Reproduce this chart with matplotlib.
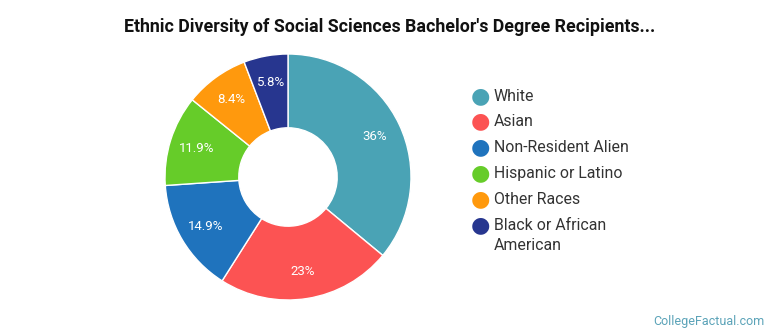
import numpy as np
import matplotlib.pyplot as plt

categories = ['White', 'Asian', 'Non-Resident Alien', 'Hispanic or Latino',
              'Other Races', 'Black or African\nAmerican']
values = [36, 23, 14.9, 11.9, 8.4, 5.8]
labels = ['36%', '23%', '14.9%', '11.9%', '8.4%', '5.8%']
colors = ['#4aa3b5', '#fc5353', '#1f73bd', '#66cc29', '#ff990d', '#27368f']

plt.rcParams['font.family'] = ['Roboto', 'DejaVu Sans']

fig = plt.figure(figsize=(7.7, 3.35), dpi=100)
fig.patch.set_facecolor('white')

# pie axes: centre ~ (288,177) px, radius ~122 px
r_px = 123
ax = fig.add_axes([(288 - r_px) / 770, (335 - 177 - r_px) / 335,
                   2 * r_px / 770, 2 * r_px / 335])
wedges, _ = ax.pie(values, colors=colors, startangle=90, counterclock=False,
                   radius=1.0,
                   wedgeprops=dict(width=0.6, edgecolor='white', linewidth=1))
ax.set_aspect('equal')
ax.set_xlim(-1, 1)
ax.set_ylim(-1, 1)

# percentage labels in the middle of each ring segment
start = 90.0
total = sum(values)
for v, lab in zip(values, labels):
    ang = np.deg2rad(start - v / total * 360 / 2)
    start -= v / total * 360
    ax.text(0.78 * np.cos(ang), 0.78 * np.sin(ang), lab, ha='center',
            va='center', color='white', fontsize=9.5)

fig.text(390 / 770, 1 - 27 / 335, "Ethnic Diversity of Social Sciences Bachelor's Degree Recipients...",
         ha='center', va='center', fontsize=12.8, fontweight='bold', color='#111111')

# legend
ys = [96, 121, 147, 173, 199, 225]
for y, c, cat in zip(ys, colors, categories):
    fig.text(480 / 770, 1 - y / 335, '\u25CF', color=c, fontsize=16,
             ha='center', va='center', family='DejaVu Sans')
    fig.text(494 / 770, 1 - (y - 7) / 335, cat, color='#333333', fontsize=11.4,
             ha='left', va='top', linespacing=1.4)

fig.text(1 - 6 / 770, 1 - 321 / 335, 'CollegeFactual.com', ha='right', va='center',
         fontsize=9, color='#5ba3b8')

fig.savefig('out.png', dpi=100, facecolor='white')
